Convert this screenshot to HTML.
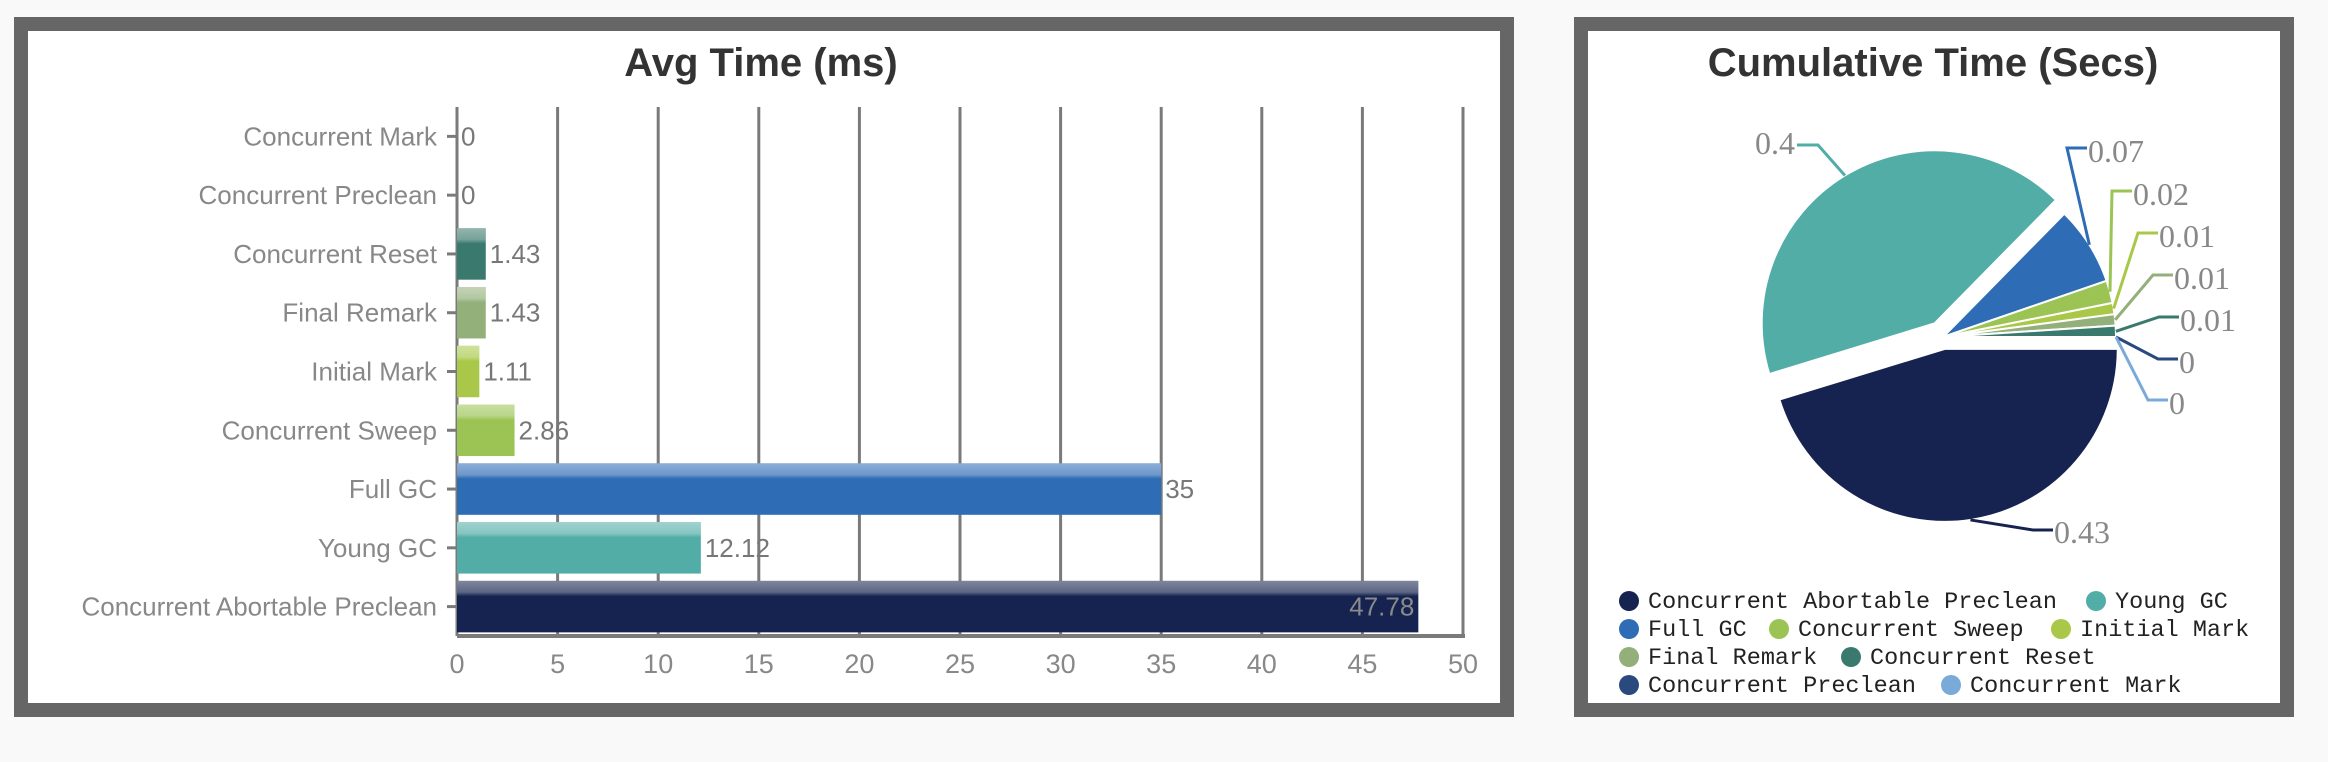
<!DOCTYPE html>
<html><head><meta charset="utf-8"><style>
html,body{margin:0;padding:0;background:#f9f9f9;}
svg{display:block;font-family:"Liberation Sans",sans-serif;}
</style></head><body>
<svg id="s" width="2328" height="762" viewBox="0 0 2328 762" xmlns="http://www.w3.org/2000/svg">
<defs id="defs"></defs>
<rect x="14" y="17" width="1500" height="700" fill="#666"/>
<rect x="28" y="31" width="1472" height="672" fill="#fff"/>
<rect x="1574" y="17" width="720" height="700" fill="#666"/>
<rect x="1588" y="31" width="692" height="672" fill="#fff"/>
<text x="761" y="76" text-anchor="middle" font-size="40" font-weight="bold" fill="#333">Avg Time (ms)</text>
<text x="1933" y="76" text-anchor="middle" font-size="40" font-weight="bold" fill="#333">Cumulative Time (Secs)</text>
<g id="bar"></g>
<g id="pie"></g>
</svg>
<script>
const categories=["Concurrent Mark","Concurrent Preclean","Concurrent Reset","Final Remark","Initial Mark","Concurrent Sweep","Full GC","Young GC","Concurrent Abortable Preclean"];
const avgValues=[0,0,1.43,1.43,1.11,2.86,35,12.12,47.78];
const xTicks=[0,5,10,15,20,25,30,35,40,45,50];
const pieLabels=["Concurrent Abortable Preclean","Young GC","Full GC","Concurrent Sweep","Initial Mark","Final Remark","Concurrent Reset","Concurrent Preclean","Concurrent Mark"];
const pieValues=[0.43,0.4,0.07,0.02,0.01,0.01,0.01,0,0];

const NS="http://www.w3.org/2000/svg";
function mk(tag,attrs,parent,txt){const e=document.createElementNS(NS,tag);for(const k in attrs)e.setAttribute(k,attrs[k]);if(txt!==undefined)e.textContent=txt;parent.appendChild(e);return e;}
const defs=document.getElementById('defs');
const barColors={"Concurrent Mark":"#7aaad8","Concurrent Preclean":"#2a4a7e","Concurrent Reset":"#3a7a6e","Final Remark":"#93b07a","Initial Mark":"#a9c84a","Concurrent Sweep":"#9bc455","Full GC":"#2e6db5","Young GC":"#52ada7","Concurrent Abortable Preclean":"#162350"};
// bar chart
const bg=document.getElementById('bar');
const X0=457,X1=1463,Y0=107,Y1=636,xMax=50;
const xs=v=>X0+v/xMax*(X1-X0);
const band=(Y1-Y0)/categories.length;
const yc=i=>Y0+band*(i+0.5);
xTicks.forEach(t=>{
 const l=mk('line',{x1:xs(t),x2:xs(t),y1:Y0,y2:Y1,stroke:'#7a7a7a','stroke-width':3},bg);
 
 
 const tx=mk('text',{x:xs(t),y:673,'text-anchor':'middle','font-size':27,fill:'#888'},bg,String(t));
 
 
});
const ax=mk('line',{x1:X0,x2:X1+2,y1:Y1,y2:Y1,stroke:'#7a7a7a','stroke-width':4},bg);


const ay=mk('line',{x1:X0,x2:X0,y1:Y0,y2:Y1,stroke:'#7a7a7a','stroke-width':3},bg);


categories.forEach((c,i)=>{
 const y=yc(i),h=51.5,v=avgValues[i],col=barColors[c];
 const lb=mk('text',{x:437,y:y+9,'text-anchor':'end','font-size':26,fill:'#888'},bg,c);
 
 
 const tk=mk('line',{x1:447,x2:457,y1:y,y2:y,stroke:'#7a7a7a','stroke-width':3},bg);
 
 
 const w=xs(v)-X0;
 if(w>0){
  const gid='g'+i;
  const g=mk('linearGradient',{id:gid,x1:0,y1:0,x2:0,y2:1},defs);
  mk('stop',{offset:'0','stop-color':'#fff','stop-opacity':0.45},g);
  mk('stop',{offset:'0.22','stop-color':'#fff','stop-opacity':0.3},g);
  mk('stop',{offset:'0.3','stop-color':'#fff','stop-opacity':0},g);
  const r=mk('rect',{x:X0,y:y-h/2,width:w,height:h,fill:col},bg);
  
  
  const hl=mk('rect',{x:X0,y:y-h/2,width:w,height:h,fill:'url(#'+gid+')'},bg);
  
  
 }
 const inside=v>45;
 const vt=mk('text',{x:inside?xs(v)-4:xs(v)+4,y:y+9,'text-anchor':inside?'end':'start','font-size':26,fill:inside?'#8a8a8a':'#777'},bg,String(v));
 
 
});
// pie chart
const pg=document.getElementById('pie');
const CX=1943,CY=337,R=173;
const total=pieValues.reduce((a,b)=>a+b,0);
const explode=[12,16,0,0,0,0,0,0,0];
let a0=0;
const rightLX=[2087,2132,2158,2173,2179,2178,2168];
const rightLY=[151,194,236,278,320,362,403];
let ri=0;
pieValues.forEach((v,i)=>{
 const sweep=v/total*Math.PI*2;
 const a1=a0+sweep, mid=(a0+a1)/2;
 const ox=CX+explode[i]*Math.cos(mid), oy=CY+explode[i]*Math.sin(mid);
 const col=barColors[pieLabels[i]];
 if(sweep>0){
  const p=mk('path',{d:`M${ox},${oy} L${ox+R*Math.cos(a0)},${oy+R*Math.sin(a0)} A${R},${R} 0 ${sweep>Math.PI?1:0} 1 ${ox+R*Math.cos(a1)},${oy+R*Math.sin(a1)} Z`,fill:col,stroke:'#fff','stroke-width':2},pg);
  
  
 }
 const ex=ox+R*Math.cos(mid), ey=oy+R*Math.sin(mid);
 let pts,lx,ly,anchor;
 if(i===0){lx=2053;ly=532;pts=[[ex,ey],[2033,530],[2053,530]];anchor='start';}
 else if(i===1){lx=1797;ly=143;pts=[[ex,ey],[1818,145],[1797,145]];anchor='end';}
 else{
  lx=rightLX[ri]; ly=rightLY[ri]; ri++;
  pts=[[ex,ey],[lx-20,ly-3],[lx,ly-3]];anchor='start';
 }
 const pl=mk('polyline',{points:pts.map(p=>p.join(',')).join(' '),fill:'none',stroke:col,'stroke-width':3},pg);
 
 
 const t=mk('text',{x:anchor==='end'?lx-2:lx+1,y:ly+11,'text-anchor':anchor,'font-size':32,fill:'#888','font-family':'Liberation Serif, serif'},pg,String(v));
 
 
 a0=a1;
});
// legend
const legendPos=[[1629,601],[2096,601],[1629,629],[1779,629],[2061,629],[1629,657],[1851,657],[1629,685],[1951,685]];
pieLabels.forEach((l,i)=>{
 const [x,y]=legendPos[i];
 const g=mk('g',{},pg);
 
 
 mk('circle',{cx:x,cy:y,r:10,fill:barColors[l]},g);
 mk('text',{x:x+19,y:y+7,'font-size':23.5,fill:'#222','font-family':'Liberation Mono, monospace'},g,l);
});
</script>
</body></html>
